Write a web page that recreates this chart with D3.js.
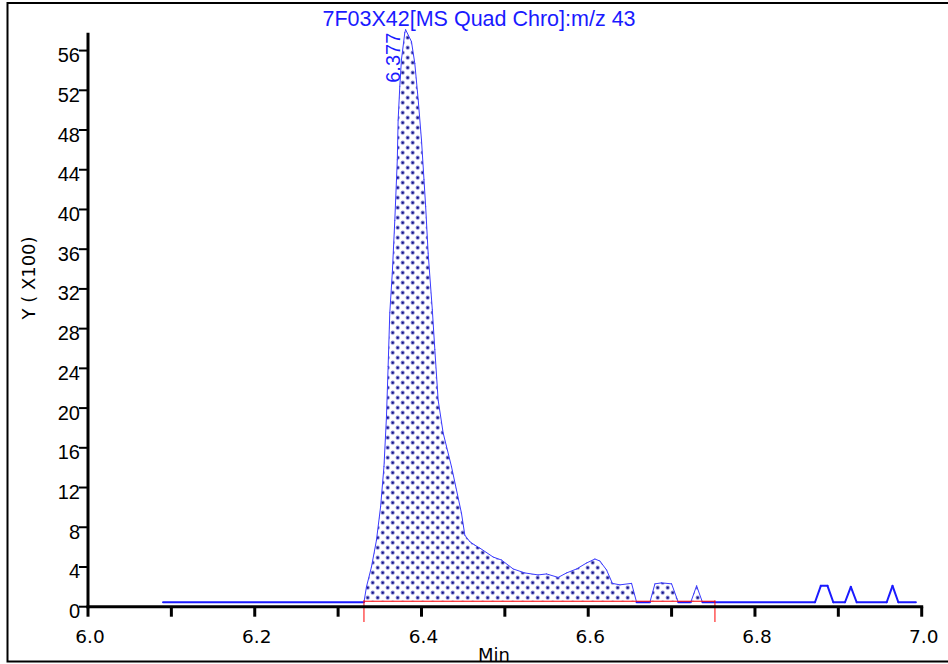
<!DOCTYPE html>
<html>
<head>
<meta charset="utf-8">
<script src="https://cdn.jsdelivr.net/npm/d3@7"></script>
<style>
  html, body { margin: 0; padding: 0; background: #fff; }
  svg { display: block; }
</style>
</head>
<body>
<svg id="chart" width="948" height="664"></svg>
<script>
// ---------------- data ----------------
const titleText = "7F03X42[MS Quad Chro]:m/z 43";
const yAxisLabel = "Y ( X100)";
const xAxisLabel = "Min";
const peakLabel = "6.377";

// retention time (min)
const times = [
  6.090, 6.331, 6.334, 6.340, 6.346, 6.351, 6.355, 6.358, 6.360, 6.362,
  6.365, 6.368, 6.371, 6.372, 6.374, 6.376, 6.380, 6.381, 6.388, 6.392,
  6.396, 6.400, 6.403, 6.405, 6.408, 6.413, 6.416, 6.420, 6.426, 6.436,
  6.448, 6.452, 6.458, 6.464, 6.470, 6.486, 6.496, 6.510, 6.524, 6.540,
  6.550, 6.564, 6.574, 6.586, 6.598, 6.608, 6.614, 6.622, 6.629, 6.638,
  6.652, 6.658, 6.674, 6.680, 6.688, 6.700, 6.708, 6.723, 6.730, 6.737,
  6.872, 6.879, 6.887, 6.894, 6.908, 6.915, 6.922, 6.958, 6.965, 6.972,
  6.993
];
// intensity (x100)
const counts = [
  0.45, 0.45, 2.0, 4.0, 6.7, 10.1, 14.1, 19.1, 24.2, 29.6,
  33.6, 38.9, 45.0, 49.0, 52.4, 55.1, 57.8, 58.1, 56.9, 54.7,
  51.1, 47.0, 43.0, 40.3, 35.6, 29.9, 25.9, 20.8, 17.5, 14.1,
  9.4, 7.2, 6.55, 6.2, 5.9, 5.0, 4.7, 3.8, 3.4, 3.2,
  3.3, 2.95, 3.4, 3.8, 4.4, 4.8, 4.6, 3.7, 2.35, 2.2,
  2.35, 0.45, 0.45, 2.3, 2.4, 2.3, 0.45, 0.45, 2.1, 0.45,
  0.45, 2.1, 2.1, 0.45, 0.45, 2.0, 0.45, 0.45, 2.1, 0.45,
  0.45
];

const yTicks = [0, 4, 8, 12, 16, 20, 24, 28, 32, 36, 40, 44, 48, 52, 56];
const xTicks = [6.0, 6.1, 6.2, 6.3, 6.4, 6.5, 6.6, 6.7, 6.8, 6.9, 7.0];
const xTickLabels = [6.0, 6.2, 6.4, 6.6, 6.8, 7.0];

// integration window and baseline
const intStart = 6.331;
const intEnd = 6.752;
const baselineLevel = 0.55;

// ---------------- drawing ----------------
const svg = d3.select("#chart");
const W = 948, H = 664;

svg.append("rect").attr("x", 0).attr("y", 0).attr("width", W).attr("height", H).attr("fill", "#fff");

// outer frame (right edge lies outside the window)
svg.append("rect")
  .attr("x", 7.5).attr("y", 3).attr("width", 960).attr("height", 658.5)
  .attr("fill", "none").attr("stroke", "#000").attr("stroke-width", 2);

const x = d3.scaleLinear().domain([6.0, 7.0]).range([88, 921.7]);
const y = d3.scaleLinear().domain([0, 57.8]).range([606.7, 32.7]);

// dot pattern
const defs = svg.append("defs");
const pat = defs.append("pattern")
  .attr("id", "dots").attr("patternUnits", "userSpaceOnUse")
  .attr("width", 10).attr("height", 10);
pat.append("rect").attr("width", 10).attr("height", 10).attr("fill", "#fff");
[[2.7, 2.7], [7.7, 7.7]].forEach(([cx, cy]) => {
  pat.append("circle").attr("cx", cx).attr("cy", cy).attr("r", 2.1).attr("fill", "#8f8fdc");
  pat.append("rect").attr("x", cx - 1).attr("y", cy - 1).attr("width", 2).attr("height", 2).attr("fill", "#10107f");
});

const pts = times.map((t, i) => ({ t, v: counts[i] }));

// filled peak area
const inside = pts.filter(d => d.t >= intStart - 1e-9 && d.t <= intEnd);
const area = d3.area()
  .x(d => x(d.t))
  .y0(y(baselineLevel))
  .y1(d => y(Math.max(d.v, baselineLevel)));
svg.append("path").datum(inside)
  .attr("d", area)
  .attr("fill", "url(#dots)");

// chromatogram trace: thin inside the integration window, thick outside / at baseline
for (let i = 0; i < pts.length - 1; i++) {
  const a = pts[i], b = pts[i + 1];
  const inWin = a.t >= intStart - 1e-9 && b.t <= intEnd;
  const flat = a.v < 1 && b.v < 1;
  svg.append("line")
    .attr("x1", x(a.t)).attr("y1", y(a.v))
    .attr("x2", x(b.t)).attr("y2", y(b.v))
    .attr("stroke", inWin && !flat ? "#3a3aff" : "#1a1aff")
    .attr("stroke-width", inWin && !flat ? 1 : 2)
    .attr("stroke-linecap", "round");
}

// integration baseline (red)
svg.append("line")
  .attr("x1", x(intStart)).attr("x2", x(intEnd))
  .attr("y1", y(baselineLevel)).attr("y2", y(baselineLevel))
  .attr("stroke", "#ff0000").attr("stroke-width", 1);
[intStart, intEnd].forEach(t => {
  svg.append("line")
    .attr("x1", x(t)).attr("x2", x(t))
    .attr("y1", y(baselineLevel) - 1).attr("y2", 622)
    .attr("stroke", "#ff0000").attr("stroke-width", 1);
});

// Y axis
const yAxisG = svg.append("g");
yAxisG.append("line")
  .attr("x1", x(6.0)).attr("x2", x(6.0))
  .attr("y1", y(0) + 1.5).attr("y2", y(57.8))
  .attr("stroke", "#000").attr("stroke-width", 3);
yAxisG.selectAll("line.tick").data(yTicks).enter().append("line")
  .attr("class", "tick")
  .attr("x1", x(6.0) - 9).attr("x2", x(6.0))
  .attr("y1", d => y(d)).attr("y2", d => y(d))
  .attr("stroke", "#000").attr("stroke-width", 2);
yAxisG.selectAll("text").data(yTicks).enter().append("text")
  .attr("x", x(6.0) - 8).attr("y", d => y(d) + 11.5)
  .attr("text-anchor", "end")
  .attr("font-family", "'Liberation Sans', Arial, sans-serif")
  .attr("font-size", 20)
  .attr("fill", "#000")
  .text(d => d);

// X axis
const xAxisG = svg.append("g");
xAxisG.append("line")
  .attr("x1", x(6.0) - 1.5).attr("x2", x(7.0) + 1.5)
  .attr("y1", y(0)).attr("y2", y(0))
  .attr("stroke", "#000").attr("stroke-width", 3);
xAxisG.selectAll("line.tick").data(xTicks).enter().append("line")
  .attr("class", "tick")
  .attr("x1", d => x(d)).attr("x2", d => x(d))
  .attr("y1", y(0)).attr("y2", y(0) + 10)
  .attr("stroke", "#000").attr("stroke-width", 3);
xAxisG.selectAll("text").data(xTickLabels).enter().append("text")
  .attr("x", d => x(d) + 2).attr("y", 642.7)
  .attr("text-anchor", "middle")
  .attr("font-family", "'DejaVu Sans', sans-serif")
  .attr("font-size", 18.5)
  .attr("fill", "#000")
  .text(d => d.toFixed(1));

// axis titles
svg.append("text")
  .attr("x", 494).attr("y", 661)
  .attr("text-anchor", "middle")
  .attr("font-family", "'DejaVu Sans', sans-serif")
  .attr("font-size", 18)
  .attr("fill", "#000")
  .text(xAxisLabel);

svg.append("text")
  .attr("transform", "translate(35,278) rotate(-90)")
  .attr("text-anchor", "middle")
  .attr("font-family", "'DejaVu Sans', sans-serif")
  .attr("font-size", 18)
  .attr("fill", "#000")
  .text(yAxisLabel);

// chart title
svg.append("text")
  .attr("x", 479).attr("y", 26)
  .attr("text-anchor", "middle")
  .attr("font-family", "'Liberation Sans', Arial, sans-serif")
  .attr("font-size", 21.5)
  .attr("fill", "#1a1aff")
  .text(titleText);

// peak apex label
const apex = pts.reduce((m, d) => (d.v > m.v ? d : m), pts[0]);
svg.append("text")
  .attr("transform", `translate(${x(apex.t) - 6},${y(apex.v) + 3}) rotate(-90)`)
  .attr("text-anchor", "end")
  .attr("font-family", "'Liberation Sans', Arial, sans-serif")
  .attr("font-size", 20)
  .attr("fill", "#1a1aff")
  .text(peakLabel);
</script>
</body>
</html>
